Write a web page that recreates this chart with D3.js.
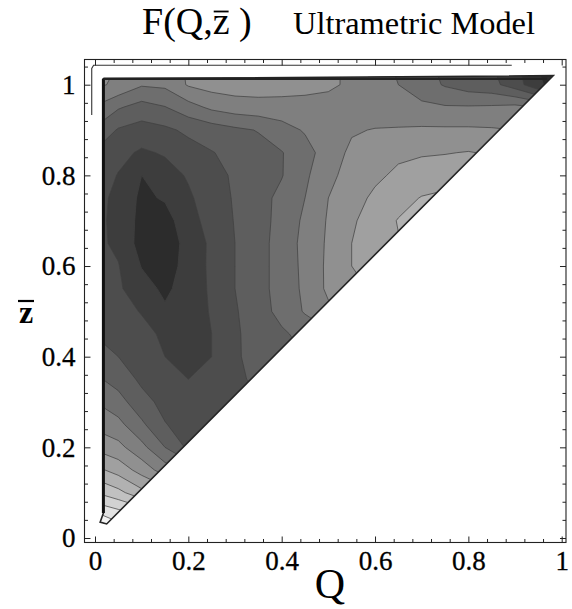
<!DOCTYPE html>
<html><head><meta charset="utf-8">
<script src="https://cdn.jsdelivr.net/npm/d3@7"></script>
<style>body{margin:0;background:#fff}svg{display:block}</style>
</head><body>
<svg id="c" width="572" height="609"></svg>
<script>
// ---------- data ----------
const qGrid = [0,0.05,0.1,0.15,0.2,0.25,0.3,0.35,0.4,0.45,0.5,0.55,0.6,0.65,0.7,0.75,0.8,0.85,0.9,0.95,1.0];
const zGrid = [0,0.05,0.1,0.15,0.2,0.25,0.3,0.35,0.4,0.45,0.5,0.55,0.6,0.65,0.7,0.75,0.8,0.85,0.9,0.95,1.0,1.05];
// F(Q, z) in contour-level units, one row per z value, starting at Q = 0 (rows stop just past the diagonal edge)
const fRows = [
  [13.5, 13.0],
  [12.2, 11.6, 11.0],
  [10.0, 9.3, 8.3, 7.6],
  [8.3, 7.6, 6.6, 5.5, 4.8],
  [6.8, 6.3, 5.3, 4.0, 2.8, 2.6],
  [5.75, 5.3, 4.2, 3.05, 2.6, 2.5, 2.5],
  [5.0, 4.4, 3.35, 2.7, 2.35, 2.3, 2.6, 2.8],
  [4.2, 3.6, 2.8, 2.3, 2.0, 2.2, 2.8, 3.2, 3.4],
  [3.55, 3.0, 2.4, 2.0, 1.75, 2.0, 2.85, 3.4, 3.8, 4.0],
  [2.95, 2.65, 2.25, 1.85, 1.5, 2.0, 2.85, 3.45, 3.85, 4.3, 4.8],
  [2.6, 2.3, 1.95, 1.15, 1.4, 2.1, 2.9, 3.6, 4.3, 5.1, 5.8, 6.2],
  [2.4, 2.15, 1.4, 0.8, 1.45, 2.15, 3.0, 3.65, 4.4, 5.2, 6.2, 6.8, 7.1],
  [2.3, 2.05, 0.95, 0.5, 1.4, 2.2, 3.0, 3.65, 4.4, 5.25, 6.2, 7.0, 7.3, 7.6],
  [2.25, 1.8, 0.6, 0.4, 1.35, 2.2, 3.0, 3.65, 4.4, 5.3, 6.15, 7.0, 7.5, 7.95, 8.15],
  [2.3, 1.7, 0.7, 0.6, 1.6, 2.4, 3.05, 3.65, 4.3, 5.2, 6.1, 6.85, 7.5, 8.05, 8.35, 8.35],
  [2.4, 1.7, 0.8, 1.1, 1.85, 2.5, 3.1, 3.65, 4.25, 5.0, 6.0, 6.6, 7.2, 7.65, 8.05, 8.2, 8.0],
  [2.6, 1.95, 1.0, 1.6, 2.1, 2.65, 3.15, 3.6, 3.95, 4.8, 5.8, 6.3, 6.8, 7.2, 7.45, 7.6, 7.6, 7.4],
  [2.9, 2.3, 1.85, 2.1, 2.6, 2.95, 3.3, 3.65, 3.95, 4.6, 5.5, 6.2, 6.55, 6.8, 6.9, 6.95, 7.05, 6.9, 6.6],
  [3.85, 2.9, 2.6, 2.8, 3.2, 3.5, 3.8, 4.05, 4.6, 5.1, 5.5, 5.9, 6.05, 6.1, 6.15, 6.15, 6.15, 6.1, 6.0, 5.8],
  [4.9, 4.1, 3.6, 3.95, 4.6, 5.2, 5.5, 5.6, 5.6, 5.6, 5.55, 5.5, 5.4, 5.3, 5.2, 5.1, 5.1, 5.15, 5.3, 5.0, 4.5],
  [6.2, 5.8, 5.1, 5.2, 6.1, 6.4, 6.5, 6.5, 6.45, 6.35, 6.2, 5.8, 5.3, 5.0, 4.5, 3.9, 3.5, 3.3, 2.5, 1.2, 0.3],
  [6.4, 6.0, 5.1, 5.3, 6.2, 6.5, 6.6, 6.6, 6.5, 6.4, 6.2, 5.8, 5.2, 4.9, 4.3, 3.7, 3.3, 3.0, 2.2, 0.9, 0.1]
];
const levels = [0,1,2,3,4,5,6,7,8,9,10,11,12];
// boundary of the plotted domain (Q, z)
const domainQ = [0.018, 0.982, 0.025, 0.011, 0.018];
const domainZ = [1.013, 1.020, 0.031, 0.035, 0.055];
// stray frame-like contour line near top-left (Q, z)
const strayQ = [-0.007, -0.007, -0.003, 0.893];
const strayZ = [0.933, 1.036, 1.043, 1.043];
const majorTicks = [0, 0.2, 0.4, 0.6, 0.8, 1];
const minorTicksX = [0.04,0.08,0.12,0.16,0.24,0.28,0.32,0.36,0.44,0.48,0.52,0.56,0.64,0.68,0.72,0.76,0.84,0.88,0.92,0.96];
const minorTicksY = minorTicksX.concat([1.04]);
const qFrame = [-0.0225, 1.0092];
const zFrame = [-0.0099, 1.0556];

// ---------- drawing ----------
const svg = d3.select("#c");
const x = d3.scaleLinear().domain([0, 1]).range([95, 561.7]);
const y = d3.scaleLinear().domain([0, 1]).range([538, 84.7]);
const serif = "'Liberation Serif','DejaVu Serif',serif";

const nx = qGrid.length, ny = zGrid.length;
const values = [];
fRows.forEach(r => qGrid.forEach((q, i) => values.push(r[Math.min(i, r.length - 1)])));
const gx = d3.scaleLinear().domain([0.5, nx - 0.5]).range([qGrid[0], qGrid[nx - 1]]);
const gy = d3.scaleLinear().domain([0.5, ny - 0.5]).range([zGrid[0], zGrid[ny - 1]]);
const proj = d3.geoTransform({ point(px, py) { this.stream.point(x(gx(px)), y(gy(py))); } });
const path = d3.geoPath(proj);
const contours = d3.contours().size([nx, ny]).thresholds(levels)(values);
const shade = d3.scaleLinear().domain([0, 12]).range(["#2c2c2c", "#f3f3f3"]);

const dom = domainQ.map((q, i) => [x(q), y(domainZ[i])]);
svg.append("clipPath").attr("id", "tri").append("polygon").attr("points", dom.map(p => p.join(",")).join(" "));

const g = svg.append("g").attr("clip-path", "url(#tri)");
g.selectAll("path.band").data(contours).join("path").attr("class", "band")
  .attr("d", path).attr("fill", d => shade(d.value)).attr("stroke", "none");
g.selectAll("path.iso").data(contours.filter(d => d.value > 0)).join("path").attr("class", "iso")
  .attr("d", path).attr("fill", "none").attr("stroke", "#404040").attr("stroke-width", 0.9).attr("stroke-opacity", 0.8);

// domain outline
svg.append("polygon").attr("points", dom.map(p => p.join(",")).join(" "))
  .attr("fill", "none").attr("stroke", "#262626").attr("stroke-width", 1.6).attr("stroke-linejoin", "miter");
svg.append("line").attr("x1", x(domainQ[0])).attr("x2", x(domainQ[0])).attr("y1", y(domainZ[0])).attr("y2", y(domainZ[4]))
  .attr("stroke", "#111").attr("stroke-width", 3);
svg.append("line").attr("x1", x(domainQ[0])).attr("x2", x(domainQ[1]) - 6).attr("y1", y(domainZ[0])).attr("y2", y(domainZ[0]))
  .attr("stroke", "#222").attr("stroke-width", 2.4);
svg.append("path").attr("d", d3.line().curve(d3.curveLinear)(strayQ.map((q, i) => [x(q), y(strayZ[i])])))
  .attr("fill", "none").attr("stroke", "#333").attr("stroke-width", 1.1);

// frame
const fl = x(qFrame[0]), fr = x(qFrame[1]), ft = y(zFrame[1]), fb = y(zFrame[0]);
svg.append("rect").attr("x", fl).attr("y", ft).attr("width", fr - fl).attr("height", fb - ft)
  .attr("fill", "none").attr("stroke", "#222").attr("stroke-width", 1.1);

const fmt = d => d === 0 ? "0" : d === 1 ? "1" : d.toFixed(1);
function styleAxis(sel) { sel.select(".domain").remove(); sel.selectAll("line").attr("stroke", "#222").attr("stroke-width", 1); }
// bottom
const axB = svg.append("g").attr("transform", `translate(0,${fb})`)
  .call(d3.axisBottom(x).tickValues(majorTicks).tickSize(-6).tickFormat(fmt)).call(styleAxis);
axB.selectAll("text").attr("y", 28).attr("dy", null)
  .style("font-family", serif).style("font-size", "27px").attr("fill", "#000")
  .attr("stroke", "#000").attr("stroke-width", 0.3);
svg.append("g").attr("transform", `translate(0,${fb})`)
  .call(d3.axisBottom(x).tickValues(minorTicksX).tickSize(-3.5).tickFormat("")).call(styleAxis);
// top
svg.append("g").attr("transform", `translate(0,${ft})`)
  .call(d3.axisTop(x).tickValues(majorTicks).tickSize(-6).tickFormat("")).call(styleAxis);
svg.append("g").attr("transform", `translate(0,${ft})`)
  .call(d3.axisTop(x).tickValues(minorTicksX).tickSize(-3.5).tickFormat("")).call(styleAxis);
// left
const axL = svg.append("g").attr("transform", `translate(${fl},0)`)
  .call(d3.axisLeft(y).tickValues(majorTicks).tickSize(-6).tickFormat(fmt)).call(styleAxis);
axL.selectAll("text").attr("x", -9).attr("dy", "0.33em")
  .style("font-family", serif).style("font-size", "27px").attr("fill", "#000")
  .attr("stroke", "#000").attr("stroke-width", 0.3);
svg.append("g").attr("transform", `translate(${fl},0)`)
  .call(d3.axisLeft(y).tickValues(minorTicksY).tickSize(-3.5).tickFormat("")).call(styleAxis);
// right
svg.append("g").attr("transform", `translate(${fr},0)`)
  .call(d3.axisRight(y).tickValues(majorTicks).tickSize(-6).tickFormat("")).call(styleAxis);
svg.append("g").attr("transform", `translate(${fr},0)`)
  .call(d3.axisRight(y).tickValues(minorTicksY).tickSize(-3.5).tickFormat("")).call(styleAxis);

// axis titles
svg.append("text").attr("x", 330).attr("y", 598).attr("text-anchor", "middle")
  .style("font-family", serif).style("font-size", "42px").attr("fill", "#000").text("Q");
svg.append("text").attr("x", 26).attr("y", 323).attr("text-anchor", "middle")
  .style("font-family", serif).style("font-weight", "bold").style("font-size", "32px").attr("fill", "#000").text("z");
svg.append("line").attr("x1", 18).attr("x2", 34).attr("y1", 301).attr("y2", 301).attr("stroke", "#000").attr("stroke-width", 2.2);

// title
const t1 = svg.append("text").attr("x", 142).attr("y", 33.5)
  .style("font-family", serif).style("font-size", "38px").attr("fill", "#000").text("F(Q,z )");
const ext = t1.node().getExtentOfChar(4);
svg.append("line").attr("x1", ext.x + 1).attr("x2", ext.x + ext.width - 1).attr("y1", 11.5).attr("y2", 11.5)
  .attr("stroke", "#000").attr("stroke-width", 1.8);
svg.append("text").attr("x", 293).attr("y", 33.5)
  .attr("textLength", 242).attr("lengthAdjust", "spacingAndGlyphs")
  .style("font-family", serif).style("font-size", "31px").attr("fill", "#000").text("Ultrametric Model");
</script>
</body></html>
